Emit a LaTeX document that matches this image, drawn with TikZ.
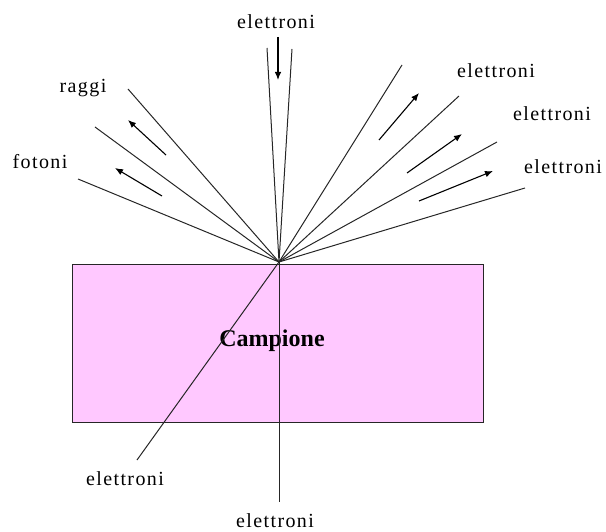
\documentclass[tikz,border=0pt]{standalone}
\usepackage{fontspec}
\setmainfont{Liberation Serif}
\usetikzlibrary{arrows.meta}
\definecolor{sample}{RGB}{255,200,255}
\begin{document}
\begin{tikzpicture}[x=1pt,y=-1pt,
  ray/.style={draw=black!85,line width=1pt},
  flow/.style={draw=black,line width=1.1pt,-{Latex[length=8pt,width=6.5pt]}},
  lbl/.style={inner sep=0pt,font=\fontsize{20}{23}\selectfont\addfontfeatures{LetterSpace=7}},
  sampbox/.style={draw=black!85,line width=1pt,fill=sample}]
\useasboundingbox (0,0) rectangle (606,532);
% sample
\node[sampbox,minimum width=411pt,minimum height=158pt,inner sep=0pt,anchor=north west] (box) at (72,264) {};
\node[inner sep=0pt,font=\fontsize{24}{28}\selectfont\bfseries] (camp) at (272,341) {Campione};
% focus point
\coordinate (F) at (279,262);
% incident beam
\coordinate (i1) at (267,48);
\coordinate (i2) at (292,49);
\draw[ray] (i1) -- (F) -- (i2);
% left emissions
\coordinate (l1) at (128,89);
\coordinate (l2) at (95,127);
\coordinate (l3) at (78,179);
\draw[ray] (F) -- (l1);
\draw[ray] (F) -- (l2);
\draw[ray] (F) -- (l3);
% right emissions
\coordinate (r1) at (402,65);
\coordinate (r2) at (459,96);
\coordinate (r3) at (497,142);
\coordinate (r4) at (525,188);
\draw[ray] (F) -- (r1);
\draw[ray] (F) -- (r2);
\draw[ray] (F) -- (r3);
\draw[ray] (F) -- (r4);
% transmitted
\coordinate (b1) at (137,460);
\coordinate (b2) at (279,502);
\draw[ray] (F) -- (b1);
\draw[ray] (F) -- (b2);
% direction arrows
\coordinate (ad0) at (278,37); \coordinate (ad1) at (278,80);
\draw[flow] (ad0) -- (ad1);
\coordinate (al0) at (166,155); \coordinate (al1) at (128,120);
\draw[flow] (al0) -- (al1);
\coordinate (am0) at (162,196); \coordinate (am1) at (115,168);
\draw[flow] (am0) -- (am1);
\coordinate (ar0) at (379,140); \coordinate (ar1) at (419,93);
\draw[flow] (ar0) -- (ar1);
\coordinate (as0) at (407,173); \coordinate (as1) at (462,134);
\draw[flow] (as0) -- (as1);
\coordinate (at0) at (419,201); \coordinate (at1) at (493,171);
\draw[flow] (at0) -- (at1);
% labels
\node[lbl] (ltop) at (276,22) {elettroni};
\node[lbl] (lraggi) at (83,88) {raggi};
\node[lbl] (lfot) at (40,162) {fotoni};
\node[lbl] (lr1) at (496,71) {elettroni};
\node[lbl] (lr2) at (552,114) {elettroni};
\node[lbl] (lr3) at (563,167) {elettroni};
\node[lbl] (lb1) at (125,479) {elettroni};
\node[lbl] (lb2) at (275,521) {elettroni};
\end{tikzpicture}
\end{document}
